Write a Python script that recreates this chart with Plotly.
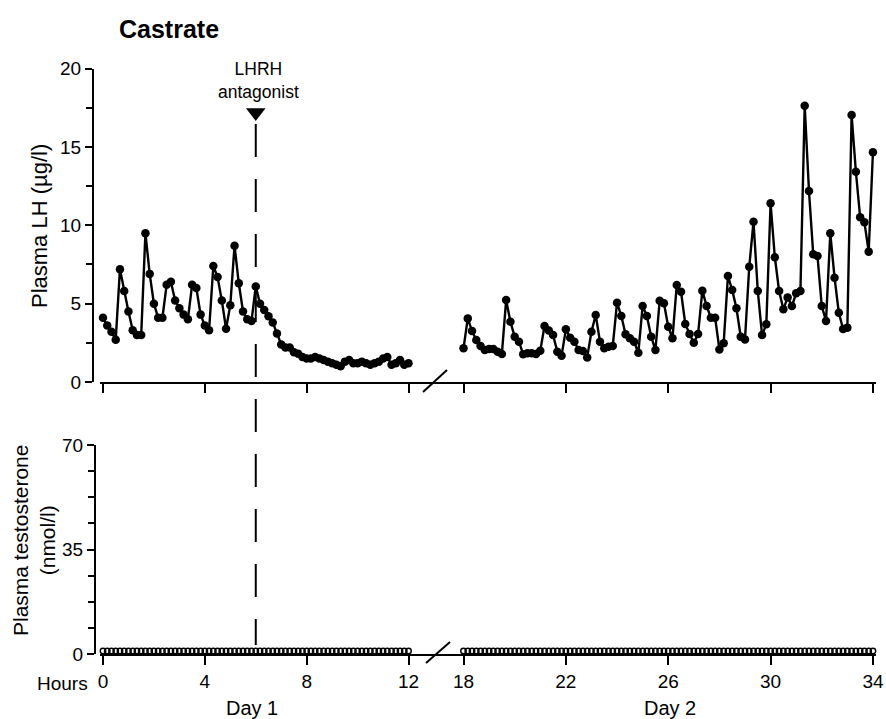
import plotly.graph_objects as go

# ---------------- data ----------------
# sampling every 10 minutes
HOURS_DAY1 = [i / 6 for i in range(73)]          # 0 .. 12 h
HOURS_DAY2 = [18 + i / 6 for i in range(97)]     # 18 .. 34 h

LH_DAY1 = [
    4.1, 3.6, 3.2, 2.7, 7.2, 5.8, 4.5, 3.3, 3.0, 3.0,
    9.5, 6.9, 5.0, 4.1, 4.1, 6.2, 6.4, 5.2, 4.7, 4.3,
    4.0, 6.2, 6.0, 4.3, 3.6, 3.3, 7.4, 6.7, 5.2, 3.4,
    4.9, 8.7, 6.3, 4.5, 4.0, 3.9, 6.1,
    5.0, 4.6, 4.2, 3.8, 3.1, 2.4, 2.2, 2.2, 1.9, 1.8,
    1.6, 1.5, 1.5, 1.6, 1.5, 1.4, 1.3, 1.2, 1.1, 1.0,
    1.3, 1.4, 1.2, 1.2, 1.3, 1.2, 1.1, 1.2, 1.3, 1.5,
    1.6, 1.1, 1.2, 1.4, 1.1, 1.2,
]

LH_DAY2 = [
    2.15, 4.06, 3.25, 2.68, 2.3, 2.04, 2.1, 2.1, 1.93, 1.79,
    5.23, 3.85, 2.89, 2.57, 1.77, 1.83, 1.83, 1.79, 2.0, 3.57,
    3.28, 3.0, 1.93, 1.68, 3.36, 2.83, 2.57, 2.04, 1.98, 1.57,
    3.21, 4.28, 2.57, 2.15,
    2.25, 2.3, 5.06, 4.21, 3.04, 2.79, 2.57, 1.87, 4.85, 4.21,
    2.89, 2.04, 5.19, 5.02, 3.53, 2.79, 6.19, 5.76, 3.7, 3.06,
    2.51, 3.06, 5.83, 4.85, 4.1, 4.1, 2.08, 2.47, 6.76, 5.87,
    4.7, 2.89,
    2.72, 7.36, 10.23, 5.81, 3.0, 3.68, 11.4, 7.96, 5.81, 4.64,
    5.4, 4.85, 5.66, 5.81, 17.63, 12.19, 8.15, 8.04, 4.85, 3.89,
    9.49, 6.66, 4.42, 3.38, 3.47, 17.04, 13.42, 10.51, 10.19, 8.32,
    14.66,
]

TESTO_DAY1 = [
    1.0, 1.0, 1.0, 1.0, 1.0, 1.0, 1.0, 1.0, 1.0, 1.0, 1.0, 1.0, 1.0, 1.0, 1.0,
    1.0, 1.0, 1.0, 1.0, 1.0, 1.0, 1.0, 1.0, 1.0, 1.0, 1.0, 1.0, 1.0, 1.0, 1.0,
    1.0, 1.0, 1.0, 1.0, 1.0, 1.0, 1.0, 1.0, 1.0, 1.0, 1.0, 1.0, 1.0, 1.0, 1.0,
    1.0, 1.0, 1.0, 1.0, 1.0, 1.0, 1.0, 1.0, 1.0, 1.0, 1.0, 1.0, 1.0, 1.0, 1.0,
    1.0, 1.0, 1.0, 1.0, 1.0, 1.0, 1.0, 1.0, 1.0, 1.0, 1.0, 1.0, 1.0,
]
TESTO_DAY2 = [
    1.0, 1.0, 1.0, 1.0, 1.0, 1.0, 1.0, 1.0, 1.0, 1.0, 1.0, 1.0, 1.0, 1.0, 1.0,
    1.0, 1.0, 1.0, 1.0, 1.0, 1.0, 1.0, 1.0, 1.0, 1.0, 1.0, 1.0, 1.0, 1.0, 1.0,
    1.0, 1.0, 1.0, 1.0, 1.0, 1.0, 1.0, 1.0, 1.0, 1.0, 1.0, 1.0, 1.0, 1.0, 1.0,
    1.0, 1.0, 1.0, 1.0, 1.0, 1.0, 1.0, 1.0, 1.0, 1.0, 1.0, 1.0, 1.0, 1.0, 1.0,
    1.0, 1.0, 1.0, 1.0, 1.0, 1.0, 1.0, 1.0, 1.0, 1.0, 1.0, 1.0, 1.0, 1.0, 1.0,
    1.0, 1.0, 1.0, 1.0, 1.0, 1.0, 1.0, 1.0, 1.0, 1.0, 1.0, 1.0, 1.0, 1.0, 1.0,
    1.0, 1.0, 1.0, 1.0, 1.0, 1.0, 1.0,
]

DAY1_TICKS = [0, 4, 8, 12]
DAY2_TICKS = [18, 22, 26, 30, 34]
LH_TICKS = [0, 5, 10, 15, 20]
TESTO_TICKS = [0, 35, 70]
ANTAGONIST_HOUR = 6
ANTAGONIST_MARK = 17.2

# ---------------- layout helpers ----------------
W, H = 886, 719
FONT = "Liberation Sans, Arial, Helvetica, sans-serif"


def fx(px):
    return px / W


def fy(py):
    return 1 - py / H


# pixel geometry
D1_LEFT, D1_RIGHT, D2_RIGHT = 100, 455, 876
PX0_D1, PXH_D1 = 103.0, 25.46     # hour 0 position, px per hour (day 1)
PX18_D2, PXH_D2 = 463.5, 25.59    # hour 18 position, px per hour (day 2)
d1_range = [(D1_LEFT - PX0_D1) / PXH_D1, (D1_RIGHT - PX0_D1) / PXH_D1]
d2_range = [18 - (PX18_D2 - D1_RIGHT) / PXH_D2, 34 + (D2_RIGHT - (PX18_D2 + 16 * PXH_D2)) / PXH_D2]

TOP_Y0, TOP_Y20 = 382, 68.6
BOT_Y0, BOT_Y70 = 654, 445

fig = go.Figure()

line_style = dict(color="black", width=2.4)
filled = dict(symbol="circle", size=8.5, color="black", line=dict(color="black", width=0))
hollow = dict(symbol="circle-open", size=5.5, color="black", line=dict(color="black", width=1.4))

fig.add_trace(go.Scatter(x=HOURS_DAY1, y=LH_DAY1, mode="lines+markers", line=line_style,
                         marker=filled, xaxis="x", yaxis="y", cliponaxis=False))
fig.add_trace(go.Scatter(x=HOURS_DAY2, y=LH_DAY2, mode="lines+markers", line=line_style,
                         marker=filled, xaxis="x2", yaxis="y", cliponaxis=False))
fig.add_trace(go.Scatter(x=HOURS_DAY1, y=TESTO_DAY1, mode="markers",
                         marker=hollow, xaxis="x3", yaxis="y2", cliponaxis=False))
fig.add_trace(go.Scatter(x=HOURS_DAY2, y=TESTO_DAY2, mode="markers",
                         marker=hollow, xaxis="x4", yaxis="y2", cliponaxis=False))
# antagonist arrow head
fig.add_trace(go.Scatter(x=[ANTAGONIST_HOUR], y=[ANTAGONIST_MARK], mode="markers",
                         marker=dict(symbol="triangle-down", size=17, color="black"),
                         xaxis="x", yaxis="y", cliponaxis=False))

axis_common = dict(showline=True, linecolor="black", linewidth=2, showgrid=False,
                   zeroline=False, ticks="outside", tickcolor="black", tickwidth=2,
                   automargin=False,
                   tickfont=dict(family=FONT, size=19, color="black"))

xd1 = dict(domain=[fx(D1_LEFT), fx(D1_RIGHT)], range=d1_range, tickvals=DAY1_TICKS,
           ticklen=9, **axis_common)
xd2 = dict(domain=[fx(D1_RIGHT), fx(D2_RIGHT)], range=d2_range, tickvals=DAY2_TICKS,
           ticklen=9, **axis_common)

fig.update_layout(
    width=W, height=H, autosize=False,
    margin=dict(l=0, r=0, t=0, b=0, pad=0, autoexpand=False),
    paper_bgcolor="white", plot_bgcolor="white",
    showlegend=False,
    xaxis=dict(anchor="y", showticklabels=False, **xd1),
    xaxis2=dict(anchor="y", showticklabels=False, **xd2),
    xaxis3=dict(anchor="y2", showticklabels=True, ticktext=[str(v) for v in DAY1_TICKS], **xd1),
    xaxis4=dict(anchor="y2", showticklabels=True, ticktext=[str(v) for v in DAY2_TICKS], **xd2),
    yaxis=dict(domain=[fy(TOP_Y0), fy(TOP_Y20)], range=[0, 20], anchor="free",
               position=fx(93), tickvals=LH_TICKS, ticklen=7,
               minor=dict(dtick=2.5, ticklen=6, tickwidth=2, tickcolor="black", ticks="outside"),
               **axis_common),
    yaxis2=dict(domain=[fy(BOT_Y0), fy(BOT_Y70)], range=[0, 70], anchor="free",
                position=fx(95), tickvals=TESTO_TICKS, ticklen=7,
                minor=dict(dtick=8.75, ticklen=6, tickwidth=2, tickcolor="black", ticks="outside"),
                **axis_common),
)

# dashed line marking the antagonist injection
fig.add_shape(type="line", xref="x", yref="paper", x0=ANTAGONIST_HOUR, x1=ANTAGONIST_HOUR,
              y0=fy(124), y1=fy(645), line=dict(color="black", width=2, dash="33px,22px"))

# axis break marks
for (xa, ya, xb, yb) in [(423, 392, 447, 370), (426, 663, 450, 642)]:
    fig.add_shape(type="line", xref="paper", yref="paper", x0=fx(xa), y0=fy(ya),
                  x1=fx(xb), y1=fy(yb), line=dict(color="black", width=2))


def note(text, px, py, size, xanchor="center", bold=False, angle=0):
    fig.add_annotation(text=f"<b>{text}</b>" if bold else text, xref="paper", yref="paper",
                       x=fx(px), y=fy(py), xanchor=xanchor, yanchor="middle",
                       showarrow=False, textangle=angle,
                       font=dict(family=FONT, size=size, color="black"))


note("Castrate", 117, 29, 25, xanchor="left", bold=True)
note("LHRH<br>antagonist", 258, 81, 17.5)
note("Plasma LH (µg/l)", 40, 226, 22, angle=-90)
note("Plasma testosterone<br>(nmol/l)", 34, 541, 21, angle=-90)
note("Hours", 90, 683, 19, xanchor="right")
note("Day 1", 252, 708, 20)
note("Day 2", 670, 708, 20)

fig.write_html(
    "out.html",
    config={"displayModeBar": False},
    post_script="document.body.style.margin='0';document.body.style.overflow='hidden';",
)
